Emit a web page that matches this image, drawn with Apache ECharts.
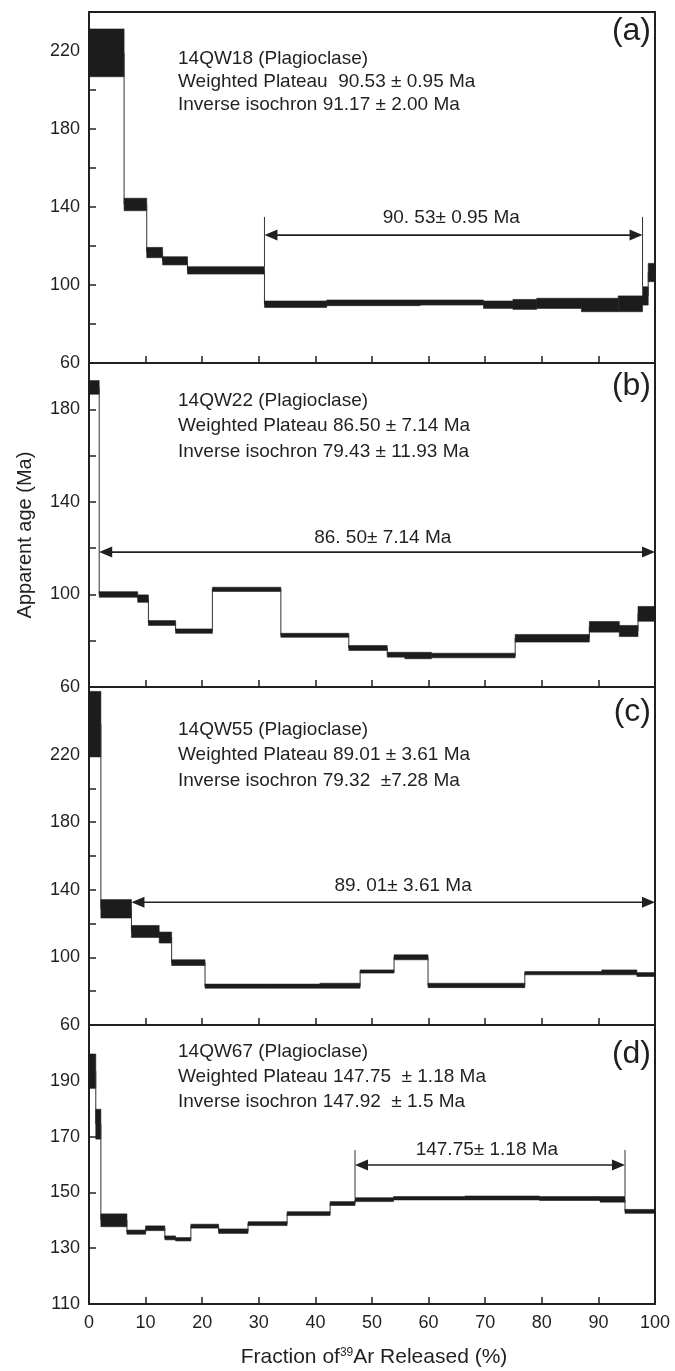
<!DOCTYPE html>
<html><head><meta charset="utf-8">
<script src="https://cdn.jsdelivr.net/npm/echarts@6/dist/echarts.min.js"></script>
<style>html,body{margin:0;padding:0;background:#fff}#c{width:675px;height:1371px}</style>
</head><body><div id="c"></div><script>
// ---------- DATA (step boundaries in % 39Ar released, ages in Ma) ----------
// (a) 14QW18
const aEdges = [0, 6.2, 10.2, 13.0, 17.4, 31.0, 42.0, 58.5, 69.7, 74.9, 79.1, 87.0, 93.5, 97.8, 98.8, 100];
const aLow   = [206.8, 138.1, 114.0, 110.3, 105.6, 88.5, 89.4, 89.7, 88.0, 87.5, 88.0, 86.3, 86.3, 89.7, 101.7];
const aHigh  = [231.3, 144.5, 119.3, 114.5, 109.4, 91.8, 92.3, 92.3, 91.8, 92.6, 93.2, 93.2, 94.4, 99.1, 111.1];
// (b) 14QW22
const bEdges = [0, 1.8, 8.6, 10.5, 15.3, 21.8, 33.9, 45.9, 52.7, 55.8, 60.5, 75.3, 88.4, 93.7, 97.0, 100];
const bLow   = [186.5, 98.8, 96.6, 86.6, 83.2, 101.3, 81.5, 75.8, 72.9, 72.2, 72.6, 79.4, 83.7, 81.8, 88.4];
const bHigh  = [192.4, 101.2, 99.8, 88.7, 85.1, 103.1, 83.2, 77.9, 75.0, 75.0, 74.6, 82.7, 88.3, 86.6, 94.8];
// (c) 14QW55
const cEdges = [0, 2.1, 7.5, 12.4, 14.6, 20.5, 31.4, 40.8, 47.9, 53.9, 59.9, 77.0, 90.6, 96.8, 100];
const cLow   = [218.6, 123.3, 111.8, 108.5, 95.2, 81.8, 81.8, 81.8, 90.7, 98.6, 82.1, 89.7, 89.7, 88.7];
const cHigh  = [257.4, 134.2, 118.9, 115.0, 98.6, 84.2, 84.2, 84.7, 92.6, 101.5, 84.7, 91.6, 92.6, 91.0];
// (d) 14QW67
const dEdges = [0, 1.2, 2.1, 6.7, 10.0, 13.4, 15.3, 18.0, 22.9, 28.1, 35.0, 42.6, 47.0, 53.8, 66.4, 79.6, 90.3, 94.7, 100];
const dLow   = [187.3, 169.1, 137.7, 135.0, 136.3, 133.0, 132.6, 137.2, 135.3, 138.1, 141.7, 145.3, 146.7, 147.3, 147.3, 147.1, 146.5, 142.5];
const dHigh  = [199.6, 179.8, 142.3, 136.5, 138.0, 134.4, 133.8, 138.6, 136.9, 139.5, 143.1, 146.7, 148.1, 148.5, 148.7, 148.5, 148.5, 143.9];

// plateau annotations
const plateauFrom   = [31.0, 1.8, 7.5, 47.0];
const plateauTo     = [97.8, 100, 100, 94.7];
const plateauAge    = [125.6, 118.3, 132.6, 159.8];
const plateauTop    = [134.9, null, null, 165.2];
const plateauBottom = [[109.4, 99.1], null, null, [148.1, 148.5]];
const plateauText   = ['90. 53\u00b1 0.95 Ma', '86. 50\u00b1 7.14 Ma', '89. 01\u00b1 3.61 Ma', '147.75\u00b1 1.18 Ma'];
const plateauTextAt = [[64.0, 134.4], [51.9, 124.7], [55.5, 142.5], [70.3, 165.2]];

// axis ranges and tick labels
const yMin = [60, 60, 60, 110];
const yMax = [240, 200, 260, 210];
const yTickLabels = [[60, 100, 140, 180, 220], [60, 100, 140, 180], [60, 100, 140, 180, 220], [110, 130, 150, 170, 190]];
const xTickLabels = [0, 10, 20, 30, 40, 50, 60, 70, 80, 90, 100];

const panelLetters = ['(a)', '(b)', '(c)', '(d)'];
const sampleInfo = [
  ['14QW18 (Plagioclase)', 'Weighted Plateau  90.53 \u00b1 0.95 Ma', 'Inverse isochron 91.17 \u00b1 2.00 Ma'],
  ['14QW22 (Plagioclase)', 'Weighted Plateau 86.50 \u00b1 7.14 Ma', 'Inverse isochron 79.43 \u00b1 11.93 Ma'],
  ['14QW55 (Plagioclase)', 'Weighted Plateau 89.01 \u00b1 3.61 Ma', 'Inverse isochron 79.32  \u00b17.28 Ma'],
  ['14QW67 (Plagioclase)', 'Weighted Plateau 147.75  \u00b1 1.18 Ma', 'Inverse isochron 147.92  \u00b1 1.5 Ma']
];

// ---------- LAYOUT ----------
const FONT = 'Liberation Sans, Arial, Helvetica, sans-serif';
const INK = '#231f20';
const layout = [
  {top: 12, height: 351},
  {top: 363, height: 324},
  {top: 687, height: 338},
  {top: 1025, height: 279}
];
const textLines = [[60, 83, 106], [402, 427, 453], [731, 756, 782], [1053, 1078, 1103]];
const letterY = [31, 386, 712, 1054];

const panels = [
  [aEdges, aLow, aHigh], [bEdges, bLow, bHigh], [cEdges, cLow, cHigh], [dEdges, dLow, dHigh]
];

function stepRows(edges, lo, hi) {
  const rows = [];
  for (let i = 0; i < lo.length; i++) {
    const mid = (lo[i] + hi[i]) / 2;
    const prev = i > 0 ? (lo[i - 1] + hi[i - 1]) / 2 : mid;
    rows.push([edges[i], edges[i + 1], lo[i], hi[i], prev]);
  }
  return rows;
}

function renderStep(params, api) {
  const x0 = api.value(0), x1 = api.value(1), lo = api.value(2), hi = api.value(3), pm = api.value(4);
  const mid = (lo + hi) / 2;
  const tl = api.coord([x0, hi]);
  const br = api.coord([x1, lo]);
  const a = api.coord([x0, pm]);
  const b = api.coord([x0, mid]);
  return {
    type: 'group',
    children: [
      {type: 'line', shape: {x1: a[0], y1: a[1], x2: b[0], y2: b[1]}, style: {stroke: '#333', lineWidth: 1}},
      {type: 'rect', shape: {x: tl[0], y: tl[1], width: br[0] - tl[0], height: br[1] - tl[1]},
       style: {fill: '#1c1c1c', stroke: '#1c1c1c', lineWidth: 0.6}}
    ]
  };
}

function makePlateau(i) {
  return function (params, api) {
    const L = api.coord([plateauFrom[i], plateauAge[i]]);
    const R = api.coord([plateauTo[i], plateauAge[i]]);
    const ah = 13, aw = 5.5;
    const ch = [
      {type: 'line', shape: {x1: L[0] + 4, y1: L[1], x2: R[0] - 4, y2: R[1]}, style: {stroke: INK, lineWidth: 1.6}},
      {type: 'polygon', shape: {points: [[L[0], L[1]], [L[0] + ah, L[1] - aw], [L[0] + ah, L[1] + aw]]}, style: {fill: INK}},
      {type: 'polygon', shape: {points: [[R[0], R[1]], [R[0] - ah, R[1] - aw], [R[0] - ah, R[1] + aw]]}, style: {fill: INK}}
    ];
    if (plateauTop[i] !== null) {
      const xs = [plateauFrom[i], plateauTo[i]];
      xs.forEach(function (x, k) {
        const t = api.coord([x, plateauTop[i]]);
        const bt = api.coord([x, plateauBottom[i][k]]);
        ch.push({type: 'line', shape: {x1: t[0], y1: t[1], x2: bt[0], y2: bt[1]}, style: {stroke: '#333', lineWidth: 1}});
      });
    }
    const tp = api.coord(plateauTextAt[i]);
    ch.push({type: 'text', x: tp[0], y: tp[1],
      style: {text: plateauText[i], fill: INK, font: '19px ' + FONT, align: 'center', verticalAlign: 'middle'}});
    return {type: 'group', children: ch};
  };
}

const grid = [], xAxis = [], yAxis = [], series = [], graphic = [];
for (let p = 0; p < 4; p++) {
  grid.push({left: 89, width: 566, top: layout[p].top, height: layout[p].height,
    show: true, borderColor: INK, borderWidth: 2, backgroundColor: 'transparent'});
  xAxis.push({
    type: 'value', gridIndex: p, min: 0, max: 100, interval: 10,
    axisLine: {show: true, onZero: false, lineStyle: {color: INK, width: 2}},
    axisTick: {show: true, inside: true, length: 7, lineStyle: {color: INK, width: 1.5}},
    splitLine: {show: false},
    axisLabel: {show: p === 3, margin: 10, color: INK, fontSize: 18, fontFamily: FONT,
      formatter: function (v) { return xTickLabels.indexOf(v) >= 0 ? String(v) : ''; }}
  });
  const labs = yTickLabels[p];
  yAxis.push({
    type: 'value', gridIndex: p, min: yMin[p], max: yMax[p], interval: 20,
    axisLine: {show: true, onZero: false, lineStyle: {color: INK, width: 2}},
    axisTick: {show: true, inside: true, length: 7, lineStyle: {color: INK, width: 1.5}},
    splitLine: {show: false},
    axisLabel: {show: true, margin: 9, color: INK, fontSize: 18, fontFamily: FONT,
      showMinLabel: true, showMaxLabel: true, hideOverlap: false,
      formatter: function (v) { return labs.indexOf(v) >= 0 ? String(v) : ''; }}
  });
  series.push({
    type: 'custom', xAxisIndex: p, yAxisIndex: p, renderItem: renderStep,
    encode: {x: [0, 1], y: [2, 3]},
    data: stepRows(panels[p][0], panels[p][1], panels[p][2]), z: 3
  });
  series.push({
    type: 'custom', xAxisIndex: p, yAxisIndex: p, renderItem: makePlateau(p),
    encode: {x: 0, y: 1}, clip: false,
    data: [[plateauFrom[p], plateauAge[p]]], z: 4
  });
  sampleInfo[p].forEach(function (line, k) {
    graphic.push({type: 'text', left: 178, top: textLines[p][k] - 11,
      style: {text: line, fill: INK, font: '19px ' + FONT}});
  });
  graphic.push({type: 'text', x: 651, y: letterY[p],
    style: {text: panelLetters[p], fill: INK, font: '32px ' + FONT, align: 'right', verticalAlign: 'middle'}});
}

graphic.push({type: 'text', x: 25, y: 535, rotation: Math.PI / 2,
  style: {text: 'Apparent age (Ma)', fill: INK, font: '20px ' + FONT, align: 'center', verticalAlign: 'middle'}});
graphic.push({type: 'text', x: 374, y: 1357,
  style: {text: '{a|Fraction of}{s|39}{a|Ar Released (%)}', align: 'center', verticalAlign: 'middle', fill: INK,
    rich: {a: {fontSize: 21, fontFamily: FONT, fill: INK, color: INK},
           s: {fontSize: 12, fontFamily: FONT, fill: INK, color: INK, verticalAlign: 'top'}}}});

const chart = echarts.init(document.getElementById('c'), null, {renderer: 'canvas'});
chart.setOption({animation: false, backgroundColor: '#fff', grid, xAxis, yAxis, series, graphic});
</script></body></html>
